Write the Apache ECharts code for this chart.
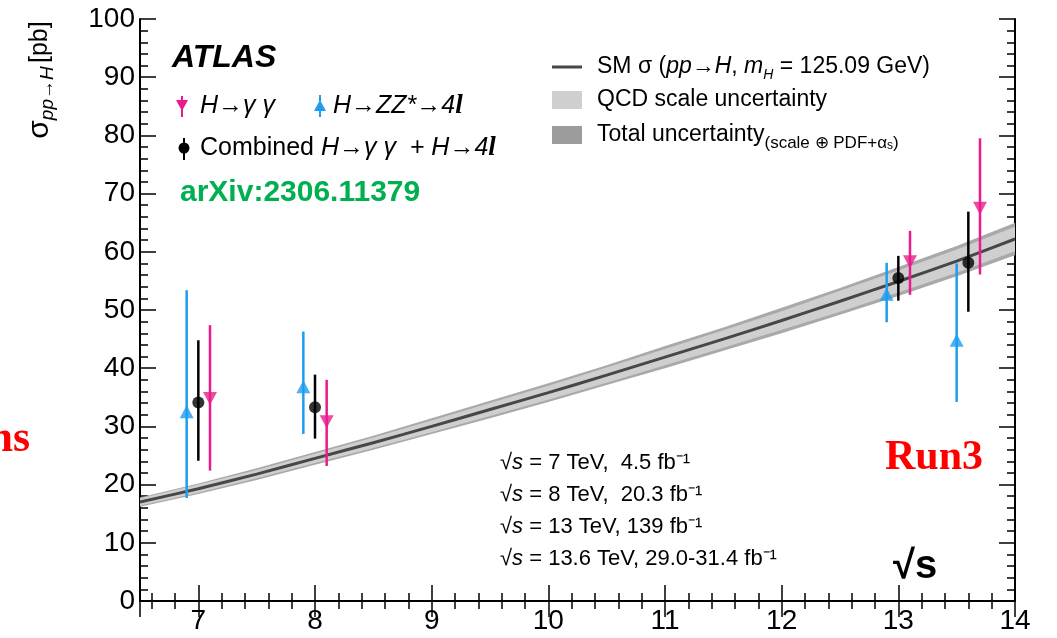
<!DOCTYPE html>
<html>
<head>
<meta charset="utf-8">
<script src="https://cdn.jsdelivr.net/npm/echarts@6/dist/echarts.min.js"></script>
<style>
  html, body { margin: 0; padding: 0; background: #ffffff; }
  #chart { width: 1057px; height: 638px; }
</style>
</head>
<body>
<div id="chart"></div>
<script>
// Centre-of-mass energy grid for the SM prediction (TeV)
const sqrtS = [6.5, 7, 7.5, 8, 8.5, 9, 9.5, 10, 10.5, 11, 11.5, 12, 12.5, 13, 13.5, 14];
// SM cross-section pp -> H (pb) and its uncertainty bands
const smXsec = [17.0, 19.3, 21.8, 24.5, 27.2, 30.0, 32.9, 35.8, 38.8, 41.9, 45.0, 48.2, 51.5, 54.9, 58.4, 62.2];
const totalLo = [16.2, 18.4, 20.8, 23.4, 26.0, 28.7, 31.4, 34.2, 37.1, 40.0, 43.0, 46.0, 49.2, 52.4, 55.8, 59.4];
const totalHi = [17.8, 20.2, 22.8, 25.6, 28.4, 31.4, 34.4, 37.4, 40.5, 43.8, 47.0, 50.4, 53.8, 57.4, 61.0, 65.0];
const qcdLo = [16.4, 18.6, 21.1, 23.7, 26.3, 29.0, 31.8, 34.6, 37.5, 40.5, 43.5, 46.6, 49.7, 53.0, 56.4, 60.1];
const qcdHi = [17.6, 20.0, 22.5, 25.3, 28.1, 31.0, 34.0, 37.0, 40.1, 43.3, 46.5, 49.8, 53.3, 56.8, 60.4, 64.3];

// Measurements (slightly offset in sqrt(s) for readability)
const gamX = [7.1, 8.1, 13.1, 13.7];
const gamVal = [34.8, 30.8, 58.3, 67.5];
const gamLo = [22.4, 23.2, 52.6, 56.1];
const gamHi = [47.4, 38.0, 63.6, 79.5];

const zzX = [6.9, 7.9, 12.9, 13.5];
const zzVal = [32.5, 36.8, 52.7, 44.8];
const zzLo = [17.7, 28.7, 47.9, 34.2];
const zzHi = [53.4, 46.3, 58.1, 58.0];

const combX = [7.0, 8.0, 13.0, 13.6];
const combVal = [34.1, 33.3, 55.5, 58.1];
const combLo = [24.1, 27.9, 51.6, 49.7];
const combHi = [44.8, 38.9, 59.3, 66.9];

const FONT = '"Liberation Sans", Arial, Helvetica, sans-serif';
const SERIF = '"Liberation Serif", "Times New Roman", serif';
const MAGENTA = '#ea1b8c';
const BLUE = '#1c9ef0';

const zip = (xs, ys) => xs.map((x, i) => [x, ys[i]]);
const bars = (xs, lo, hi) => xs.map((x, i) => [x, lo[i], hi[i]]);

// Vertical error bar from lo to hi at a given sqrt(s)
function errorBar(color) {
  return function (params, api) {
    const a = api.coord([api.value(0), api.value(1)]);
    const b = api.coord([api.value(0), api.value(2)]);
    return {
      type: 'line',
      shape: { x1: a[0], y1: a[1], x2: b[0], y2: b[1] },
      style: { stroke: color, lineWidth: 2.5 }
    };
  };
}

// Filled band between lo and hi, drawn as one polygon
function bandPolygon(xs, lo, hi, color) {
  return function (params, api) {
    if (params.dataIndex !== 0) return null;
    const upper = xs.map((x, i) => api.coord([x, hi[i]]));
    const lower = xs.map((x, i) => api.coord([x, lo[i]])).reverse();
    return {
      type: 'polygon',
      shape: { points: upper.concat(lower) },
      style: { fill: color }
    };
  };
}

const tickStyle = { color: '#000', width: 1.5 };
const axisLine = { show: true, lineStyle: { color: '#000', width: 2 } };
const xBase = {
  type: 'value', min: 6.5, max: 14, splitNumber: 8, splitLine: { show: false }, axisLine: axisLine,
  axisTick: { show: true, inside: true, length: 16, lineStyle: tickStyle },
  minorTick: { show: true, splitNumber: 5, length: 8, lineStyle: tickStyle }
};
const yBase = {
  type: 'value', min: 0, max: 100, interval: 10, splitLine: { show: false }, axisLine: axisLine,
  axisTick: { show: true, inside: true, length: 16, lineStyle: tickStyle },
  minorTick: { show: true, splitNumber: 5, length: 8, lineStyle: tickStyle }
};

const chart = echarts.init(document.getElementById('chart'), null, { renderer: 'canvas' });
const legendText = { fontFamily: FONT, fill: '#000' };

chart.setOption({
  animation: false,
  backgroundColor: '#ffffff',
  grid: { left: 140, right: 42, top: 19, bottom: 37 },
  xAxis: [
    Object.assign({}, xBase, {
      position: 'bottom',
      axisLabel: { show: true, showMinLabel: false, margin: 6, fontSize: 28, color: '#000', fontFamily: FONT }
    }),
    Object.assign({}, xBase, { position: 'top', axisLabel: { show: false } })
  ],
  yAxis: [
    Object.assign({}, yBase, {
      position: 'left',
      axisLabel: { show: true, margin: 5, fontSize: 28, color: '#000', fontFamily: FONT }
    }),
    Object.assign({}, yBase, { position: 'right', axisLabel: { show: false } })
  ],
  series: [
    // Total uncertainty band (scale + PDF + alpha_s)
    { type: 'custom', data: bars(sqrtS, totalLo, totalHi), renderItem: bandPolygon(sqrtS, totalLo, totalHi, '#a9a9a9'),
      encode: { x: 0, y: 1 }, silent: true, z: 1 },
    // QCD scale uncertainty band
    { type: 'custom', data: bars(sqrtS, qcdLo, qcdHi), renderItem: bandPolygon(sqrtS, qcdLo, qcdHi, '#cfcfcf'),
      encode: { x: 0, y: 1 }, silent: true, z: 2 },
    // SM central prediction
    { type: 'line', data: zip(sqrtS, smXsec), symbol: 'none', smooth: 0.2, lineStyle: { color: '#474747', width: 3 }, z: 3 },
    // Error bars
    { type: 'custom', data: bars(zzX, zzLo, zzHi), renderItem: errorBar(BLUE), encode: { x: 0, y: 1 }, z: 4 },
    { type: 'custom', data: bars(combX, combLo, combHi), renderItem: errorBar('#000'), encode: { x: 0, y: 1 }, z: 4 },
    { type: 'custom', data: bars(gamX, gamLo, gamHi), renderItem: errorBar(MAGENTA), encode: { x: 0, y: 1 }, z: 4 },
    // Central values
    { type: 'scatter', data: zip(zzX, zzVal), symbol: 'triangle', symbolSize: [14, 13], itemStyle: { color: BLUE }, z: 5 },
    { type: 'scatter', data: zip(combX, combVal), symbol: 'circle', symbolSize: 12, itemStyle: { color: '#000' }, z: 5 },
    { type: 'scatter', data: zip(gamX, gamVal), symbol: 'triangle', symbolRotate: 180, symbolSize: [14, 13], itemStyle: { color: MAGENTA }, z: 5 }
  ],
  graphic: [
    // y-axis title
    {
      type: 'text', x: 40, y: 80, rotation: Math.PI / 2, z: 10,
      style: {
        text: '{s|σ}{sub|pp→H} {u|[pb]}', align: 'center', verticalAlign: 'middle',
        rich: {
          s: { fontFamily: FONT, fontSize: 30, fill: '#000', lineHeight: 34 },
          sub: { fontFamily: FONT, fontStyle: 'italic', fontSize: 19, fill: '#000', verticalAlign: 'bottom', lineHeight: 34 },
          u: { fontFamily: FONT, fontSize: 25, fill: '#000', lineHeight: 34 }
        }
      }
    },
    // Experiment label
    { type: 'text', x: 172, y: 58, z: 10, style: Object.assign({}, legendText, { text: 'ATLAS', fontSize: 32, fontWeight: 'bold', fontStyle: 'italic', verticalAlign: 'middle' }) },
    // Legend: H->gamma gamma
    { type: 'line', z: 10, shape: { x1: 182, y1: 96, x2: 182, y2: 117 }, style: { stroke: MAGENTA, lineWidth: 2 } },
    { type: 'polygon', z: 10, shape: { points: [[176, 100], [188, 100], [182, 111]] }, style: { fill: MAGENTA } },
    { type: 'text', x: 200, y: 106, z: 10, style: Object.assign({}, legendText, { text: 'H→γ γ', fontSize: 25, fontStyle: 'italic', verticalAlign: 'middle' }) },
    // Legend: H->ZZ*->4l
    { type: 'line', z: 10, shape: { x1: 320, y1: 95, x2: 320, y2: 117 }, style: { stroke: BLUE, lineWidth: 2 } },
    { type: 'polygon', z: 10, shape: { points: [[314, 111], [326, 111], [320, 100]] }, style: { fill: BLUE } },
    {
      type: 'text', x: 333, y: 106, z: 10,
      style: {
        text: '{i|H→ZZ*→4}{l|l}', verticalAlign: 'middle',
        rich: {
          i: { fontFamily: FONT, fontStyle: 'italic', fontSize: 25, fill: '#000' },
          l: { fontFamily: SERIF, fontStyle: 'italic', fontWeight: 'bold', fontSize: 27, fill: '#000' }
        }
      }
    },
    // Legend: combined
    { type: 'line', z: 10, shape: { x1: 184, y1: 138, x2: 184, y2: 160 }, style: { stroke: '#000', lineWidth: 2 } },
    { type: 'circle', z: 10, shape: { cx: 184, cy: 148, r: 5.5 }, style: { fill: '#000' } },
    {
      type: 'text', x: 200, y: 148, z: 10,
      style: {
        text: '{n|Combined }{i|H→γ γ  + H→4}{l|l}', verticalAlign: 'middle',
        rich: {
          n: { fontFamily: FONT, fontSize: 25, fill: '#000' },
          i: { fontFamily: FONT, fontStyle: 'italic', fontSize: 25, fill: '#000' },
          l: { fontFamily: SERIF, fontStyle: 'italic', fontWeight: 'bold', fontSize: 27, fill: '#000' }
        }
      }
    },
    // Reference
    { type: 'text', x: 180, y: 193, z: 10, style: { text: 'arXiv:2306.11379', fontFamily: FONT, fontWeight: 'bold', fontSize: 30, fill: '#00b050', verticalAlign: 'middle' } },
    // Legend: SM prediction and bands
    { type: 'line', z: 10, shape: { x1: 552, y1: 67, x2: 582, y2: 67 }, style: { stroke: '#474747', lineWidth: 3 } },
    {
      type: 'text', x: 597, y: 67, z: 10,
      style: {
        text: '{n|SM σ (}{i|pp}{n|→}{i|H}{n|, }{i|m}{sub|H}{n| = 125.09 GeV)}', verticalAlign: 'middle',
        rich: {
          n: { fontFamily: FONT, fontSize: 23, fill: '#000', lineHeight: 30 },
          i: { fontFamily: FONT, fontStyle: 'italic', fontSize: 23, fill: '#000', lineHeight: 30 },
          sub: { fontFamily: FONT, fontStyle: 'italic', fontSize: 14, fill: '#000', verticalAlign: 'bottom', lineHeight: 30 }
        }
      }
    },
    { type: 'rect', z: 10, shape: { x: 552, y: 91, width: 30, height: 18 }, style: { fill: '#cfcfcf' } },
    { type: 'text', x: 597, y: 100, z: 10, style: Object.assign({}, legendText, { text: 'QCD scale uncertainty', fontSize: 23, verticalAlign: 'middle' }) },
    { type: 'rect', z: 10, shape: { x: 552, y: 126, width: 30, height: 18 }, style: { fill: '#9c9c9c' } },
    {
      type: 'text', x: 597, y: 135, z: 10,
      style: {
        text: '{n|Total uncertainty}{s|(scale ⊕ PDF+α}{sub|s}{s|)}', verticalAlign: 'middle',
        rich: {
          n: { fontFamily: FONT, fontSize: 23, fill: '#000', lineHeight: 30 },
          s: { fontFamily: FONT, fontSize: 17, fill: '#000', lineHeight: 30, verticalAlign: 'bottom' },
          sub: { fontFamily: FONT, fontSize: 12, fill: '#000', lineHeight: 34, verticalAlign: 'bottom' }
        }
      }
    },
    // Data-taking conditions
    {
      type: 'text', x: 500, y: 447, z: 10,
      style: {
        text: [
          '{r|√}{i|s}{n| = 7 TeV,  4.5 fb⁻¹}',
          '{r|√}{i|s}{n| = 8 TeV,  20.3 fb⁻¹}',
          '{r|√}{i|s}{n| = 13 TeV, 139 fb⁻¹}',
          '{r|√}{i|s}{n| = 13.6 TeV, 29.0-31.4 fb⁻¹}'
        ].join('\n'),
        verticalAlign: 'top',
        rich: {
          r: { fontFamily: FONT, fontSize: 22, fill: '#000', lineHeight: 32 },
          i: { fontFamily: FONT, fontStyle: 'italic', fontSize: 22, fill: '#000', lineHeight: 32 },
          n: { fontFamily: FONT, fontSize: 22, fill: '#000', lineHeight: 32 }
        }
      }
    },
    // Annotations
    { type: 'text', x: 30, y: 440, z: 10, style: { text: 'ns', fontFamily: SERIF, fontWeight: 'bold', fontSize: 44, fill: '#ff0000', align: 'right', verticalAlign: 'middle' } },
    { type: 'text', x: 885, y: 458, z: 10, style: { text: 'Run3', fontFamily: SERIF, fontWeight: 'bold', fontSize: 42, fill: '#ff0000', verticalAlign: 'middle' } },
    { type: 'text', x: 893, y: 567, z: 10, style: { text: '√s', fontFamily: FONT, fontWeight: 'bold', fontSize: 40, fill: '#000', verticalAlign: 'middle' } }
  ]
});
</script>
</body>
</html>
